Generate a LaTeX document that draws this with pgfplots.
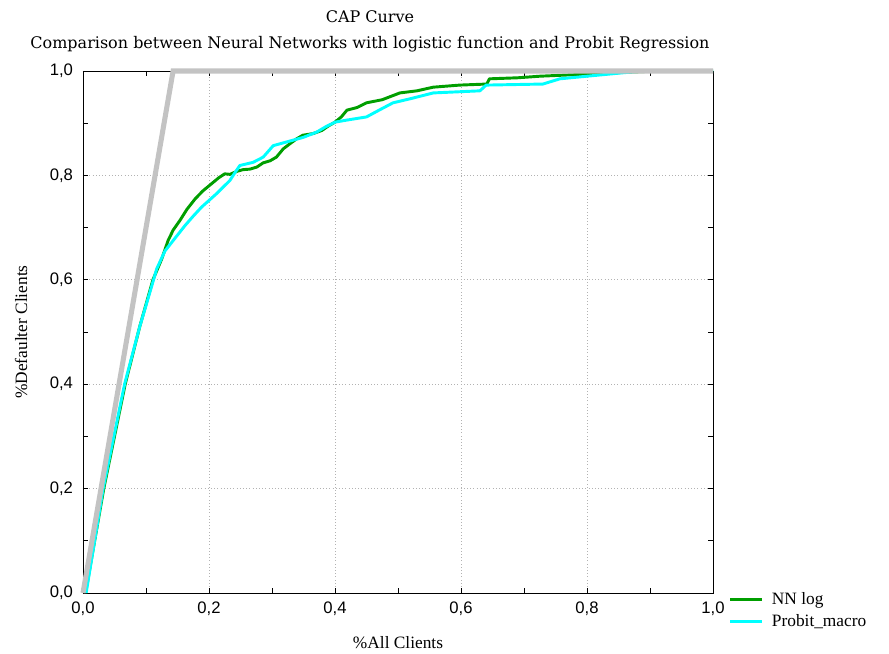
\documentclass[border=0pt]{standalone}
\usepackage{pgfplots}
\pgfplotsset{compat=1.18}
\usepackage{fontspec}
\setmainfont{Liberation Serif}
\newfontfamily\titlefont{DejaVu Serif}
\newfontfamily\tickfont{Liberation Sans}
\definecolor{nngreen}{RGB}{0,158,0}
\definecolor{probcyan}{RGB}{0,255,255}
\definecolor{refgray}{RGB}{195,195,195}
\begin{document}
\begin{tikzpicture}
\begin{axis}[name=ax, scale only axis, width=472.5pt, height=391.5pt,
  xmin=0, xmax=1, ymin=0, ymax=1,
  xtick={0,0.2,0.4,0.6,0.8,1.0}, ytick={0,0.2,0.4,0.6,0.8,1.0},
  minor tick num=1, tick align=inside, major tick length=4pt, minor tick length=4pt,
  grid=major, major grid style={dotted, black!30, line width=0.5pt},
  axis line style={black, line width=0.7pt},
  every tick/.style={black, line width=0.6pt},
  clip=false,
  /pgf/number format/fixed, /pgf/number format/fixed zerofill,
  /pgf/number format/precision=1, /pgf/number format/use comma,
  /pgf/number format/assume math mode=true,
  ticklabel style={font=\tickfont\fontsize{12.5}{14}\selectfont},
  xticklabel style={yshift=-3pt},
  yticklabel style={xshift=-4pt},
  title={CAP Curve\\Comparison between Neural Networks with logistic function and Probit Regression},
  title style={font=\titlefont\fontsize{12}{19}\selectfont, align=center, yshift=5pt, xshift=-21pt},
  xlabel={\%All Clients}, ylabel={\%Defaulter Clients},
  label style={font=\fontsize{13}{15}\selectfont},
  xlabel style={yshift=-9pt},
  ylabel style={yshift=10pt},
  legend style={at={(rel axis cs:1.025,0.006)}, anchor=north west, draw=none, fill=none,
    font=\fontsize{13}{15}\selectfont, row sep=1.5pt, inner sep=0pt,
    nodes={inner xsep=6pt}},
  legend cell align=left,
  legend image code/.code={\draw[#1] (0pt,0pt) -- (24pt,0pt);},
]
\addplot[nngreen, line width=2.2pt, line join=round] coordinates {
(0.004,0) (0.033,0.2) (0.067,0.4) (0.090,0.51) (0.111,0.6) (0.125,0.64)
(0.135,0.675) (0.143,0.695) (0.154,0.714) (0.165,0.735) (0.178,0.755)
(0.190,0.770) (0.204,0.784) (0.215,0.795) (0.225,0.803) (0.233,0.802)
(0.245,0.808) (0.254,0.811) (0.265,0.812) (0.276,0.816) (0.286,0.824)
(0.297,0.828) (0.307,0.835) (0.318,0.851) (0.330,0.862) (0.339,0.870)
(0.349,0.877) (0.365,0.880) (0.379,0.886) (0.390,0.895) (0.400,0.902)
(0.410,0.912) (0.419,0.925) (0.435,0.930) (0.450,0.939) (0.475,0.945)
(0.503,0.958) (0.530,0.962) (0.556,0.969) (0.598,0.973) (0.641,0.975)
(0.645,0.985) (0.690,0.987) (0.725,0.990) (0.800,0.994) (0.850,0.997)
(0.913,1.0) (1.0,1.0)
};
\addlegendentry{NN log}
\addplot[probcyan, line width=2.2pt, line join=round] coordinates {
(0.005,0) (0.032,0.2) (0.066,0.4) (0.090,0.51) (0.112,0.6) (0.117,0.621)
(0.130,0.655) (0.143,0.675) (0.162,0.704) (0.175,0.722) (0.188,0.739)
(0.200,0.752) (0.212,0.765) (0.222,0.777) (0.233,0.790) (0.241,0.805)
(0.249,0.819) (0.270,0.825) (0.286,0.835) (0.302,0.857) (0.323,0.864)
(0.350,0.873) (0.371,0.883) (0.385,0.893) (0.400,0.902) (0.419,0.906)
(0.450,0.912) (0.470,0.925) (0.492,0.939) (0.520,0.947) (0.556,0.958)
(0.630,0.962) (0.640,0.973) (0.730,0.975) (0.757,0.985) (0.800,0.990)
(0.852,0.996) (0.880,0.999) (0.916,1.0) (1.0,1.0)
};
\addlegendentry{Probit\_macro}
\addplot[refgray, line width=3.8pt, forget plot] coordinates {
(0,0) (0.143,1.0) (1.0,1.0)
};
\end{axis}
\path ([xshift=-62.25pt,yshift=-45pt]ax.south west) rectangle ([xshift=132pt,yshift=53.25pt]ax.north east);
\end{tikzpicture}
\end{document}
